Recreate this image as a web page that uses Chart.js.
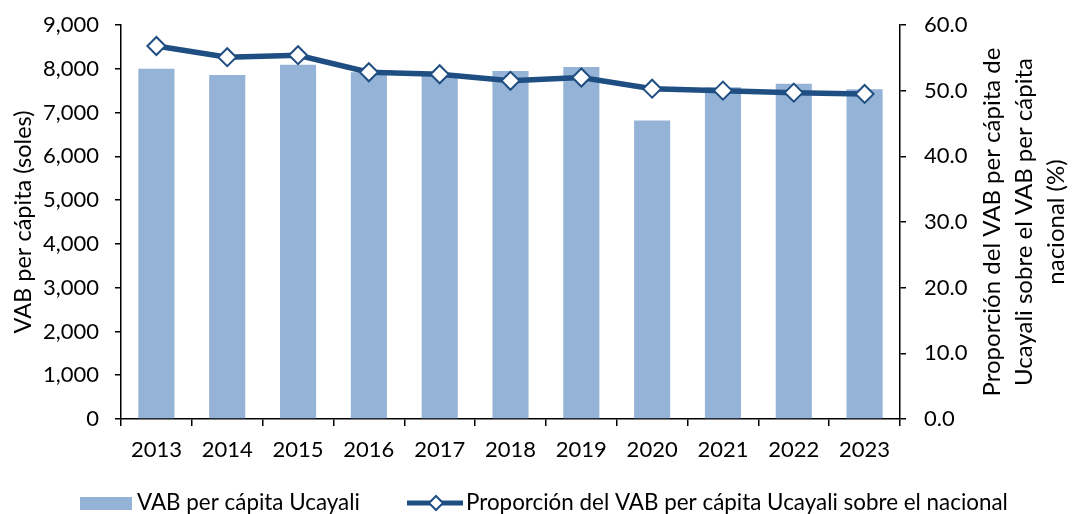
<!DOCTYPE html>
<html>
<head>
<meta charset="utf-8">
<script src="https://cdn.jsdelivr.net/npm/chart.js@4/dist/chart.umd.min.js"></script>
<style>
  html, body { margin: 0; padding: 0; background: #fff; }
  #wrap { width: 1072px; height: 514px; }
</style>
</head>
<body>
<div id="wrap"><canvas id="c" width="1072" height="514"></canvas></div>
<script>
const years = ['2013', '2014', '2015', '2016', '2017', '2018', '2019', '2020', '2021', '2022', '2023'];
// VAB per cápita Ucayali (soles)
const vabUcayali = [8000, 7860, 8090, 7920, 7880, 7950, 8040, 6820, 7580, 7660, 7530];
// Proporción respecto del VAB per cápita nacional (%)
const proporcion = [56.8, 55.1, 55.4, 52.8, 52.5, 51.5, 52.0, 50.3, 50.0, 49.7, 49.5];

const leftTitle = 'VAB per cápita (soles)';
const rightTitle = ['Proporción del VAB per cápita de', 'Ucayali sobre el VAB per cápita', 'nacional (%)'];
const legendBar = 'VAB per cápita Ucayali';
const legendLine = 'Proporción del VAB per cápita Ucayali sobre el nacional';

const FONT = 'Lato';
const BAR_COLOR = '#95B3D7';
const LINE_COLOR = '#1F4E82';
const PLOT_TOP = 25;

// keep the plot area's top edge at a fixed position
const plotTop = {
  id: 'plotTop',
  afterLayout(chart) {
    const a = chart.chartArea;
    if (a.top === PLOT_TOP) return;
    a.top = PLOT_TOP;
    a.height = a.bottom - PLOT_TOP;
    ['y', 'y1'].forEach(id => {
      const s = chart.scales[id];
      s.top = PLOT_TOP;
      s.height = s.bottom - PLOT_TOP;
      s.configure();
    });
  }
};

// right axis title (reads bottom-to-top) and bottom legend
const extras = {
  id: 'extras',
  afterDraw(chart) {
    const ctx = chart.ctx;
    const cy = 222;
    ctx.save();
    ctx.fillStyle = '#000';
    ctx.font = '24px ' + FONT;
    ctx.textAlign = 'center';
    ctx.textBaseline = 'middle';
    const xs = [992, 1024, 1056];
    rightTitle.forEach((t, i) => {
      ctx.save();
      ctx.translate(xs[i], cy);
      ctx.rotate(-Math.PI / 2);
      ctx.fillText(t, 0, 0);
      ctx.restore();
    });

    // legend
    const ly = 503;
    ctx.fillStyle = BAR_COLOR;
    ctx.fillRect(80, 497, 52, 13);
    ctx.fillStyle = '#000';
    ctx.font = '22.4px ' + FONT;
    ctx.textAlign = 'left';
    ctx.fillText(legendBar, 137, ly);

    ctx.strokeStyle = LINE_COLOR;
    ctx.lineWidth = 5;
    ctx.beginPath();
    ctx.moveTo(407, ly);
    ctx.lineTo(463, ly);
    ctx.stroke();
    ctx.beginPath();
    ctx.moveTo(436, ly - 7);
    ctx.lineTo(443, ly);
    ctx.lineTo(436, ly + 7);
    ctx.lineTo(429, ly);
    ctx.closePath();
    ctx.fillStyle = '#fff';
    ctx.fill();
    ctx.lineWidth = 2;
    ctx.stroke();
    ctx.fillStyle = '#000';
    ctx.fillText(legendLine, 466, ly);
    ctx.restore();
  }
};

new Chart(document.getElementById('c'), {
  data: {
    labels: years,
    datasets: [
      {
        type: 'line',
        label: legendLine,
        data: proporcion,
        yAxisID: 'y1',
        borderColor: LINE_COLOR,
        borderWidth: 5.5,
        pointStyle: 'rectRot',
        pointRadius: 9,
        pointBorderWidth: 2,
        pointBackgroundColor: '#fff',
        pointBorderColor: LINE_COLOR,
        tension: 0,
        order: 0
      },
      {
        type: 'bar',
        label: legendBar,
        data: vabUcayali,
        yAxisID: 'y',
        backgroundColor: BAR_COLOR,
        barPercentage: 0.51,
        categoryPercentage: 1,
        order: 1
      }
    ]
  },
  options: {
    responsive: false,
    animation: false,
    layout: { autoPadding: false, padding: { top: PLOT_TOP, right: 0, bottom: 0, left: 0 } },
    plugins: { legend: { display: false }, tooltip: { enabled: false } },
    scales: {
      x: {
        offset: true,
        grid: { display: true, drawOnChartArea: false, offset: true, tickLength: 7, color: '#000', lineWidth: 1.5 },
        border: { color: '#000', width: 1.5 },
        ticks: { color: '#000', font: { family: FONT, size: 22 }, padding: 11, maxRotation: 0 },
        afterFit(s) { s.height = 95; }
      },
      y: {
        position: 'left',
        min: 0, max: 9000,
        ticks: {
          stepSize: 1000, color: '#000', padding: 16,
          font: { family: FONT, size: 22 },
          callback: v => v.toLocaleString('en-US')
        },
        grid: { drawOnChartArea: false, tickLength: 6, color: '#000', lineWidth: 1.5 },
        border: { color: '#000', width: 1.5 },
        title: { display: true, text: leftTitle, color: '#000', font: { family: FONT, size: 23.5 }, padding: { top: 9, bottom: 0 } },
        afterFit(s) { s.width = 121; }
      },
      y1: {
        position: 'right',
        min: 0, max: 60,
        ticks: {
          stepSize: 10, color: '#000', padding: 18,
          font: { family: FONT, size: 22 },
          callback: v => v.toFixed(1)
        },
        grid: { drawOnChartArea: false, tickLength: 6, color: '#000', lineWidth: 1.5 },
        border: { color: '#000', width: 1.5 },
        afterFit(s) { s.width = 172; }
      }
    }
  },
  plugins: [plotTop, extras]
});
</script>
</body>
</html>
